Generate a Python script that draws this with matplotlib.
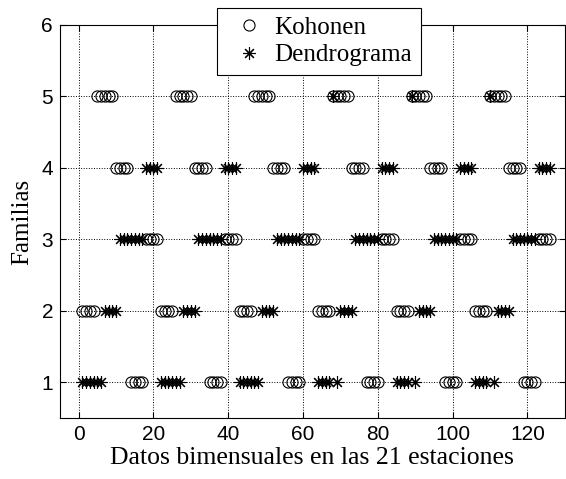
import numpy as np
import matplotlib
matplotlib.use("Agg")
import matplotlib.pyplot as plt

# family of each station (1..21) inside one bimonthly period
kohonen_station = [2, 2, 2, 2, 5, 5, 5, 5, 5, 4, 4, 4, 4, 1, 1, 1, 1, 3, 3, 3, 3]
dendro_station_a = [1, 1, 1, 1, 1, 1, 2, 2, 2, 2, 3, 3, 3, 3, 3, 3, 3, 4, 4, 4, 4]
dendro_station_b = [1, 1, 1, 1, 5, 1, 2, 2, 2, 2, 3, 3, 3, 3, 3, 3, 3, 4, 4, 4, 4]

kohonen = kohonen_station * 6
dendrograma = dendro_station_a * 3 + dendro_station_b * 3
x = np.arange(1, len(kohonen) + 1)

plt.rcParams['font.family'] = ['Liberation Sans', 'DejaVu Sans']

fig = plt.figure(figsize=(5.66, 4.79), dpi=100)
ax = fig.add_axes([0.106, 0.127, 0.892, 0.821])

ax.plot(x, kohonen, linestyle='none', marker='o', markersize=8,
        markerfacecolor='none', markeredgecolor='black', markeredgewidth=0.8,
        label='Kohonen')
ax.plot(x, dendrograma, linestyle='none', marker=(8, 2, 0), markersize=9,
        color='black', markeredgewidth=0.8, label='Dendrograma')

ax.set_xlim(-5, 130)
ax.set_ylim(0.5, 6)
ax.set_xticks([0, 20, 40, 60, 80, 100, 120])
ax.set_yticks([1, 2, 3, 4, 5, 6])
ax.tick_params(direction='in', top=True, right=True, labelsize=15, length=4, pad=5)
ax.grid(True, linestyle=':', color='black', linewidth=0.7)

serif = ['Liberation Serif', 'DejaVu Serif']
ax.set_xlabel('Datos bimensuales en las 21 estaciones', family=serif, fontsize=18.5, labelpad=2)
ax.set_ylabel('Familias', family=serif, fontsize=18, labelpad=6)

leg = fig.legend(loc='upper left', bbox_to_anchor=(0.383, 0.984), prop={'family': serif, 'size': 18},
                 fancybox=False, edgecolor='black', framealpha=1, handlelength=1.9,
                 handletextpad=0.05, borderpad=0.35, labelspacing=0.2, borderaxespad=0)
leg.get_frame().set_linewidth(0.8)

fig.savefig('out.png', dpi=100)
